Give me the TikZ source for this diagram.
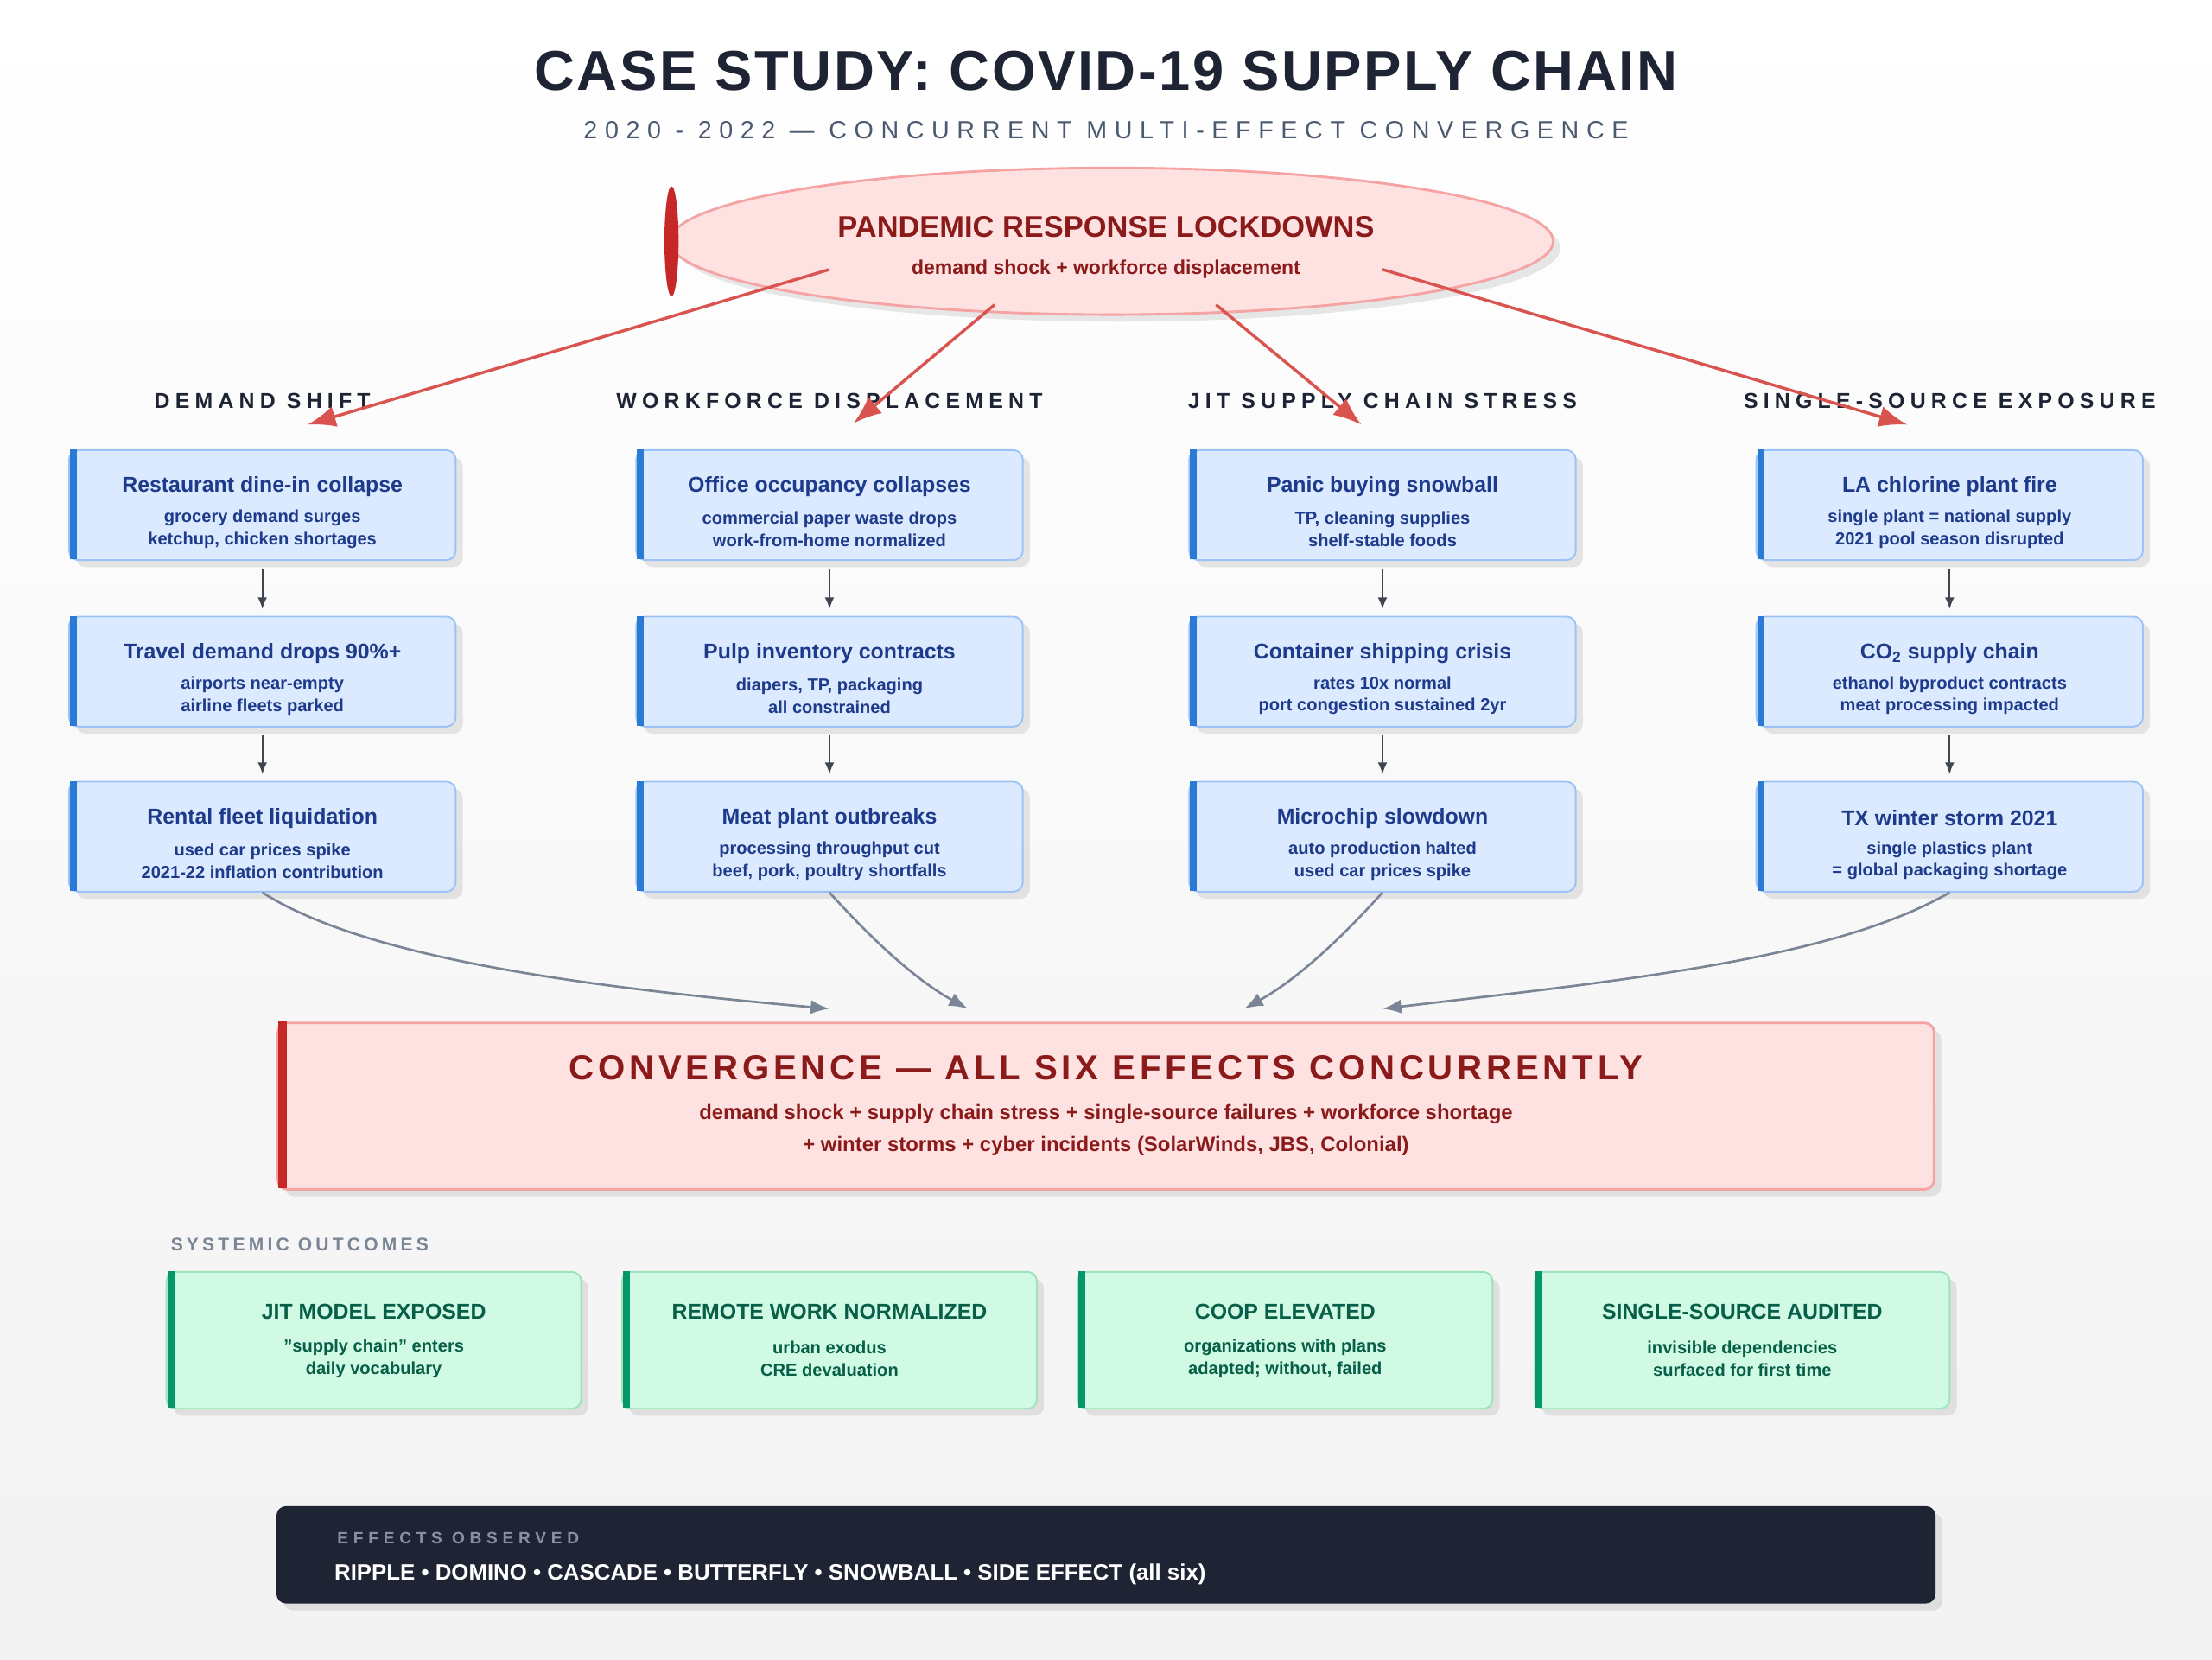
\documentclass[tikz,border=0pt]{standalone}
\usepackage{fontspec}
\setmainfont{Liberation Sans}
\usetikzlibrary{shapes.geometric,arrows.meta,shadows}
\definecolor{ink}{HTML}{1E2433}
\definecolor{pinkf}{HTML}{FEE2E2}
\definecolor{pinkd}{HTML}{F5A3A3}
\definecolor{dred}{HTML}{8B1A1A}
\definecolor{bred}{HTML}{C62828}
\definecolor{arred}{HTML}{D9534F}
\definecolor{bluef}{HTML}{DBEAFE}
\definecolor{blued}{HTML}{9CC3F5}
\definecolor{bbar}{HTML}{2B7BD6}
\definecolor{btext}{HTML}{1E3A8A}
\definecolor{greenf}{HTML}{D1FAE5}
\definecolor{greend}{HTML}{9BE3B8}
\definecolor{gbar}{HTML}{059669}
\definecolor{gtext}{HTML}{065F46}
\definecolor{grayt}{HTML}{4B5A70}
\definecolor{grayl}{HTML}{7A8596}
\newcommand\lsp[1]{\addfontfeatures{LetterSpace=#1}}
\tikzset{
 shd/.style={drop shadow={shadow xshift=1.5mm,shadow yshift=-1.5mm,opacity=0.18}},
 bbox/.style={draw=blued,line width=1pt,fill=bluef,rounded corners=2mm,minimum width=274*0.3mm,minimum height=78*0.3mm,shd},
 gbox/.style={draw=greend,line width=1pt,fill=greenf,rounded corners=2mm,minimum width=294*0.3mm,minimum height=97*0.3mm,shd},
 stp/.style={-{Latex[length=2.5mm,width=2mm]},draw=ink!85,line width=0.9pt},
 rarr/.style={-{Latex[length=6mm,width=4.5mm]},draw=arred,line width=1.8pt},
 garr/.style={-{Latex[length=4mm,width=3mm]},draw=grayl,line width=1.4pt},
 bt/.style={text=btext,font=\bfseries\fontsize{13}{15}\selectfont},
 bs/.style={text=btext,font=\bfseries\fontsize{10.5}{13.5}\selectfont,align=center},
 hd/.style={text=ink,font=\bfseries\fontsize{13}{15}\selectfont\lsp{25}},
}
\newcommand\ebox[6]{%
 \node[bbox] (#1) at (#2,#3) {};
 \fill[bbar] ([xshift=1pt]#1.north west) rectangle ++(5,78);
 \node[bt] at (#2,#3-13) {#4};
 \node[bs] at (#2,#3+17) {#5\\#6};}
\newcommand\gbx[6]{%
 \node[gbox] (#1) at (#2,#3) {};
 \fill[gbar] ([xshift=1pt]#1.north west) rectangle ++(5,97);
 \node[text=gtext,font=\bfseries\fontsize{13}{15}\selectfont] at (#2,#3-20) {#4};
 \node[text=gtext,font=\bfseries\fontsize{10.5}{14}\selectfont,align=center] at (#2,#3+13) {#5\\#6};}
\begin{document}
\begin{tikzpicture}[x=0.3mm,y=-0.3mm]
\shade[top color=white,bottom color=gray!10] (0,0) rectangle (1568,1176);
\useasboundingbox (0,0) rectangle (1568,1176);
\node[text=ink,font=\bfseries\fontsize{34}{40}\selectfont\lsp{4}] (title) at (784,50) {CASE STUDY: COVID-19 SUPPLY CHAIN};
\node[text=grayt,font=\fontsize{15}{18}\selectfont\lsp{30}] (sub) at (784,92) {2020 - 2022 — CONCURRENT MULTI-EFFECT CONVERGENCE};
\node[ellipse,draw=pinkd,line width=1.5pt,fill=pinkf,minimum width=626*0.3mm,minimum height=104*0.3mm,shd] (lock) at (788,171) {};
\fill[bred] (476,171) ellipse (5 and 39);
\node[text=dred,font=\bfseries\fontsize{18}{20}\selectfont] at (784,161) {PANDEMIC RESPONSE LOCKDOWNS};
\node[text=dred,font=\bfseries\fontsize{12}{14}\selectfont] at (784,191) {demand shock + workforce displacement};
\node[hd] (h1) at (186,284) {DEMAND SHIFT};
\node[hd] (h2) at (588,284) {WORKFORCE DISPLACEMENT};
\node[hd] (h3) at (980,284) {JIT SUPPLY CHAIN STRESS};
\node[hd] (h4) at (1382,284) {SINGLE-SOURCE EXPOSURE};
\ebox{a1}{186}{358}{Restaurant dine-in collapse}{grocery demand surges}{ketchup, chicken shortages}
\ebox{a2}{186}{476}{Travel demand drops 90\%+}{airports near-empty}{airline fleets parked}
\ebox{a3}{186}{593}{Rental fleet liquidation}{used car prices spike}{2021-22 inflation contribution}
\ebox{b1}{588}{358}{Office occupancy collapses}{commercial paper waste drops}{work-from-home normalized}
\ebox{b2}{588}{476}{Pulp inventory contracts}{diapers, TP, packaging}{all constrained}
\ebox{b3}{588}{593}{Meat plant outbreaks}{processing throughput cut}{beef, pork, poultry shortfalls}
\ebox{c1}{980}{358}{Panic buying snowball}{TP, cleaning supplies}{shelf-stable foods}
\ebox{c2}{980}{476}{Container shipping crisis}{rates 10x normal}{port congestion sustained 2yr}
\ebox{c3}{980}{593}{Microchip slowdown}{auto production halted}{used car prices spike}
\ebox{d1}{1382}{358}{LA chlorine plant fire}{single plant = national supply}{2021 pool season disrupted}
\ebox{d2}{1382}{476}{CO\textsubscript{2} supply chain}{ethanol byproduct contracts}{meat processing impacted}
\ebox{d3}{1382}{593}{TX winter storm 2021}{single plastics plant}{= global packaging shortage}
\foreach \c in {a,b,c,d}{
 \draw[stp] ([yshift=-5pt]\c1.south) -- ([yshift=4pt]\c2.north);
 \draw[stp] ([yshift=-5pt]\c2.south) -- ([yshift=4pt]\c3.north);}
\coordinate (t1) at (218,301); \coordinate (t2) at (605,300);
\coordinate (t3) at (965,301); \coordinate (t4) at (1352,301);
\draw[rarr] (588,191) -- (t1);
\draw[rarr] (705,216) -- (t2);
\draw[rarr] (862,216) -- (t3);
\draw[rarr] (980,191) -- (t4);
\node[draw=pinkd,line width=1.5pt,fill=pinkf,rounded corners=2mm,minimum width=1174*0.3mm,minimum height=118*0.3mm,shd] (conv) at (784,784) {};
\fill[bred] ([xshift=1pt]conv.north west) rectangle ++(6,118);
\node[text=dred,font=\bfseries\fontsize{21}{24}\selectfont\lsp{12}] at (784,757) {CONVERGENCE — ALL SIX EFFECTS CONCURRENTLY};
\node[text=dred,font=\bfseries\fontsize{12.5}{19}\selectfont,align=center] at (784,801) {demand shock + supply chain stress + single-source failures + workforce shortage\\+ winter storms + cyber incidents (SolarWinds, JBS, Colonial)};
\coordinate (e1) at (588,715); \coordinate (e2) at (686,715);
\coordinate (e3) at (882,715); \coordinate (e4) at (980,715);
\draw[garr] (a3.south) .. controls (260,680) and (420,700) .. (e1);
\draw[garr] (b3.south) .. controls (620,668) and (650,695) .. (e2);
\draw[garr] (c3.south) .. controls (948,668) and (918,695) .. (e3);
\draw[garr] (d3.south) .. controls (1300,680) and (1150,695) .. (e4);
\node[anchor=west,text=grayl,font=\bfseries\fontsize{11}{13}\selectfont\lsp{20}] (so) at (117,882) {SYSTEMIC OUTCOMES};
\gbx{g1}{265}{950}{JIT MODEL EXPOSED}{"supply chain" enters}{daily vocabulary}
\gbx{g2}{588}{950}{REMOTE WORK NORMALIZED}{urban exodus}{CRE devaluation}
\gbx{g3}{911}{950}{COOP ELEVATED}{organizations with plans}{adapted; without, failed}
\gbx{g4}{1235}{950}{SINGLE-SOURCE AUDITED}{invisible dependencies}{surfaced for first time}
\node[fill=ink,rounded corners=2mm,minimum width=1176*0.3mm,minimum height=69*0.3mm,shd] (foot) at (784,1102) {};
\node[anchor=west,text=grayl!90,font=\bfseries\fontsize{10}{12}\selectfont\lsp{30}] (fl) at (235,1090) {EFFECTS OBSERVED};
\node[anchor=west,text=white,font=\bfseries\fontsize{13.5}{16}\selectfont] (fm) at (233,1116) {RIPPLE • DOMINO • CASCADE • BUTTERFLY • SNOWBALL • SIDE EFFECT (all six)};
\end{tikzpicture}
\end{document}
